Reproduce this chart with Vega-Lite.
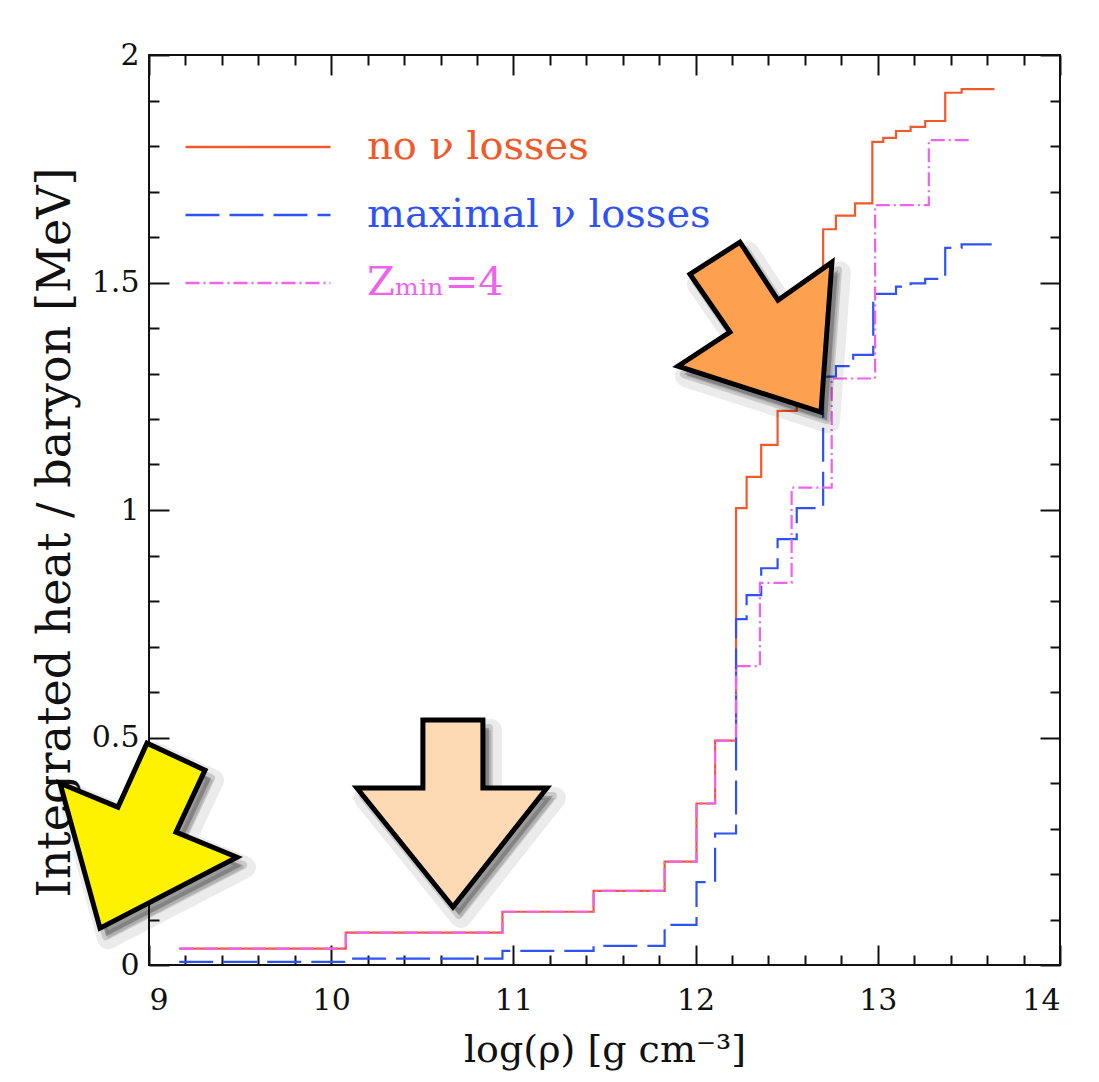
{
  "$schema": "https://vega.github.io/schema/vega-lite/v6.json",
  "width": 911,
  "height": 910,
  "autosize": {"type": "none"},
  "padding": {"left": 149, "top": 55, "right": 39, "bottom": 117},
  "background": "white",
  "config": {
    "view": {"stroke": "#111", "strokeWidth": 2},
    "axis": {"domain": false, "grid": false, "labelFont": "DejaVu Serif", "titleFont": "DejaVu Serif", "labelColor": "#111", "titleColor": "#111", "tickColor": "#111", "tickWidth": 2, "titleFontWeight": "normal"}
  },
  "datasets": {
    "steps": [
      {"series": "no ν losses", "x": 9.166, "y": 0.036},
      {"series": "no ν losses", "x": 10.08, "y": 0.071},
      {"series": "no ν losses", "x": 10.94, "y": 0.117},
      {"series": "no ν losses", "x": 11.44, "y": 0.163},
      {"series": "no ν losses", "x": 11.83, "y": 0.227},
      {"series": "no ν losses", "x": 12.005, "y": 0.355},
      {"series": "no ν losses", "x": 12.107, "y": 0.493},
      {"series": "no ν losses", "x": 12.222, "y": 1.004},
      {"series": "no ν losses", "x": 12.28, "y": 1.073},
      {"series": "no ν losses", "x": 12.36, "y": 1.143},
      {"series": "no ν losses", "x": 12.45, "y": 1.218},
      {"series": "no ν losses", "x": 12.555, "y": 1.26},
      {"series": "no ν losses", "x": 12.7, "y": 1.617},
      {"series": "no ν losses", "x": 12.77, "y": 1.647},
      {"series": "no ν losses", "x": 12.875, "y": 1.674},
      {"series": "no ν losses", "x": 12.97, "y": 1.809},
      {"series": "no ν losses", "x": 13.03, "y": 1.818},
      {"series": "no ν losses", "x": 13.1, "y": 1.833},
      {"series": "no ν losses", "x": 13.18, "y": 1.842},
      {"series": "no ν losses", "x": 13.26, "y": 1.855},
      {"series": "no ν losses", "x": 13.37, "y": 1.917},
      {"series": "no ν losses", "x": 13.46, "y": 1.925},
      {"series": "no ν losses", "x": 13.64, "y": 1.925},
      {"series": "maximal ν losses", "x": 9.166, "y": 0.007},
      {"series": "maximal ν losses", "x": 10.08, "y": 0.014},
      {"series": "maximal ν losses", "x": 10.94, "y": 0.031},
      {"series": "maximal ν losses", "x": 11.44, "y": 0.042},
      {"series": "maximal ν losses", "x": 11.83, "y": 0.088},
      {"series": "maximal ν losses", "x": 12.005, "y": 0.182},
      {"series": "maximal ν losses", "x": 12.107, "y": 0.289},
      {"series": "maximal ν losses", "x": 12.222, "y": 0.76},
      {"series": "maximal ν losses", "x": 12.28, "y": 0.813},
      {"series": "maximal ν losses", "x": 12.36, "y": 0.872},
      {"series": "maximal ν losses", "x": 12.45, "y": 0.936},
      {"series": "maximal ν losses", "x": 12.555, "y": 1.004},
      {"series": "maximal ν losses", "x": 12.7, "y": 1.293},
      {"series": "maximal ν losses", "x": 12.77, "y": 1.316},
      {"series": "maximal ν losses", "x": 12.865, "y": 1.341},
      {"series": "maximal ν losses", "x": 12.975, "y": 1.475},
      {"series": "maximal ν losses", "x": 13.1, "y": 1.491},
      {"series": "maximal ν losses", "x": 13.18, "y": 1.498},
      {"series": "maximal ν losses", "x": 13.26, "y": 1.508},
      {"series": "maximal ν losses", "x": 13.37, "y": 1.576},
      {"series": "maximal ν losses", "x": 13.46, "y": 1.584},
      {"series": "maximal ν losses", "x": 13.64, "y": 1.584},
      {"series": "Zₘᵢₙ=4", "x": 9.166, "y": 0.036},
      {"series": "Zₘᵢₙ=4", "x": 10.08, "y": 0.071},
      {"series": "Zₘᵢₙ=4", "x": 10.94, "y": 0.117},
      {"series": "Zₘᵢₙ=4", "x": 11.44, "y": 0.163},
      {"series": "Zₘᵢₙ=4", "x": 11.83, "y": 0.227},
      {"series": "Zₘᵢₙ=4", "x": 12.005, "y": 0.355},
      {"series": "Zₘᵢₙ=4", "x": 12.107, "y": 0.493},
      {"series": "Zₘᵢₙ=4", "x": 12.222, "y": 0.657},
      {"series": "Zₘᵢₙ=4", "x": 12.353, "y": 0.84},
      {"series": "Zₘᵢₙ=4", "x": 12.527, "y": 1.049},
      {"series": "Zₘᵢₙ=4", "x": 12.747, "y": 1.289},
      {"series": "Zₘᵢₙ=4", "x": 12.985, "y": 1.67},
      {"series": "Zₘᵢₙ=4", "x": 13.28, "y": 1.813},
      {"series": "Zₘᵢₙ=4", "x": 13.52, "y": 1.813}
    ],
    "arrows": [
      {"kind": "yellow", "x": 8.731, "y": 0.081},
      {"kind": "peach", "x": 10.668, "y": 0.1275},
      {"kind": "orange", "x": 12.688, "y": 1.215}
    ]
  },
  "resolve": {"axis": {"x": "independent", "y": "independent"}},
  "layer": [
    {
      "data": {"name": "steps"},
      "mark": {"type": "line", "interpolate": "step-after", "strokeWidth": 2.2},
      "encoding": {
        "x": {"field": "x", "type": "quantitative", "scale": {"domain": [9, 14], "nice": false, "zero": false},
          "axis": {"orient": "bottom", "values": [9, 10, 11, 12, 13, 14], "format": "~g", "tickSize": -20, "labelPadding": 40, "labelFontSize": 30, "title": "log(ρ) [g cm⁻³]", "titleFontSize": 38, "titlePadding": 16}},
        "y": {"field": "y", "type": "quantitative", "scale": {"domain": [0, 2], "nice": false, "zero": false},
          "axis": {"orient": "left", "values": [0, 0.5, 1, 1.5, 2], "format": "~g", "tickSize": -20, "labelPadding": 30, "labelFontSize": 30, "title": "Integrated heat / baryon [MeV]", "titleFontSize": 46, "titleBaseline": "alphabetic", "titleX": -80, "titleY": 477}},
        "color": {"field": "series", "type": "nominal",
          "scale": {"domain": ["no ν losses", "maximal ν losses", "Zₘᵢₙ=4"], "range": ["#f05a2a", "#2f52f5", "#ee62ee"]},
          "legend": {"orient": "none", "legendX": 35, "legendY": 67, "title": null, "symbolType": "stroke", "symbolSize": 21025, "symbolStrokeWidth": 2.5, "clipHeight": 50, "labelFont": "DejaVu Serif", "labelFontSize": 40, "labelOffset": 35, "rowPadding": 18, "labelLimit": 600,
            "encode": {"labels": {"update": {"fill": {"scale": "color", "field": "value"}}}}}},
        "strokeDash": {"field": "series", "type": "nominal",
          "scale": {"domain": ["no ν losses", "maximal ν losses", "Zₘᵢₙ=4"], "range": [[1, 0], [34, 10], [14, 4, 2, 4]]},
          "legend": {"orient": "none", "legendX": 35, "legendY": 67, "title": null, "symbolType": "stroke", "symbolSize": 21025, "symbolStrokeWidth": 2.5, "clipHeight": 50, "labelFont": "DejaVu Serif", "labelFontSize": 40, "labelOffset": 35, "rowPadding": 18, "labelLimit": 600,
            "encode": {"labels": {"update": {"fill": {"scale": "color", "field": "value"}}}}}}
      }
    },
    {
      "data": {"name": "steps"},
      "mark": {"type": "point", "opacity": 0},
      "encoding": {
        "x": {"field": "x", "type": "quantitative", "axis": {"orient": "bottom", "values": [9.2, 9.4, 9.6, 9.8, 10.2, 10.4, 10.6, 10.8, 11.2, 11.4, 11.6, 11.8, 12.2, 12.4, 12.6, 12.8, 13.2, 13.4, 13.6, 13.8], "tickSize": -10, "labels": false, "title": null}},
        "y": {"field": "y", "type": "quantitative", "axis": {"orient": "left", "values": [0.1, 0.2, 0.3, 0.4, 0.6, 0.7, 0.8, 0.9, 1.1, 1.2, 1.3, 1.4, 1.6, 1.7, 1.8, 1.9], "tickSize": -10, "labels": false, "title": null}}
      }
    },
    {
      "data": {"name": "steps"},
      "mark": {"type": "point", "opacity": 0},
      "encoding": {
        "x": {"field": "x", "type": "quantitative", "axis": {"orient": "top", "values": [9, 10, 11, 12, 13, 14], "tickSize": -20, "labels": false, "title": null}},
        "y": {"field": "y", "type": "quantitative", "axis": {"orient": "right", "values": [0, 0.5, 1, 1.5, 2], "tickSize": -20, "labels": false, "title": null}}
      }
    },
    {
      "data": {"name": "steps"},
      "mark": {"type": "point", "opacity": 0},
      "encoding": {
        "x": {"field": "x", "type": "quantitative", "axis": {"orient": "top", "values": [9.2, 9.4, 9.6, 9.8, 10.2, 10.4, 10.6, 10.8, 11.2, 11.4, 11.6, 11.8, 12.2, 12.4, 12.6, 12.8, 13.2, 13.4, 13.6, 13.8], "tickSize": -10, "labels": false, "title": null}},
        "y": {"field": "y", "type": "quantitative", "axis": {"orient": "right", "values": [0.1, 0.2, 0.3, 0.4, 0.6, 0.7, 0.8, 0.9, 1.1, 1.2, 1.3, 1.4, 1.6, 1.7, 1.8, 1.9], "tickSize": -10, "labels": false, "title": null}}
      }
    },
    {
      "data": {"name": "arrows"},
      "mark": {"type": "point", "filled": true, "size": 40000, "opacity": 1, "fill": "#000", "fillOpacity": 0.12, "stroke": "#000", "strokeOpacity": 0.08, "strokeWidth": 22, "strokeJoin": "round", "xOffset": 8, "yOffset": 10},
      "encoding": {
        "x": {"field": "x", "type": "quantitative", "axis": null},
        "y": {"field": "y", "type": "quantitative", "axis": null},
        "shape": {"field": "kind", "type": "nominal", "legend": null,
          "scale": {"domain": ["yellow", "peach", "orange"], "range": [
            "M0,0 L-0.40,-1.45 L0.18,-1.21 L0.47,-1.85 L1.05,-1.58 L0.76,-0.96 L1.37,-0.71 Z",
            "M0,0 L-0.96,-1.19 L-0.30,-1.19 L-0.30,-1.87 L0.30,-1.87 L0.30,-1.19 L0.94,-1.19 Z",
            "M0,0 L0.11,-1.50 L-0.43,-1.12 L-0.81,-1.70 L-1.31,-1.38 L-0.91,-0.80 L-1.43,-0.46 Z"]}}
      }
    },
    {
      "data": {"name": "arrows"},
      "mark": {"type": "point", "filled": true, "size": 40000, "opacity": 1, "fill": "#000", "fillOpacity": 0.25, "stroke": "#000", "strokeOpacity": 0.15, "strokeWidth": 8, "strokeJoin": "round", "xOffset": 6, "yOffset": 8},
      "encoding": {
        "x": {"field": "x", "type": "quantitative", "axis": null},
        "y": {"field": "y", "type": "quantitative", "axis": null},
        "shape": {"field": "kind", "type": "nominal", "legend": null}
      }
    },
    {
      "data": {"name": "arrows"},
      "mark": {"type": "point", "filled": true, "size": 40000, "opacity": 1, "stroke": "#000", "strokeWidth": 5, "strokeJoin": "miter"},
      "encoding": {
        "x": {"field": "x", "type": "quantitative", "axis": null},
        "y": {"field": "y", "type": "quantitative", "axis": null},
        "shape": {"field": "kind", "type": "nominal", "legend": null},
        "fill": {"field": "kind", "type": "nominal", "legend": null,
          "scale": {"domain": ["yellow", "peach", "orange"], "range": ["#fff200", "#fdd9b4", "#fda050"]}}
      }
    }
  ]
}
